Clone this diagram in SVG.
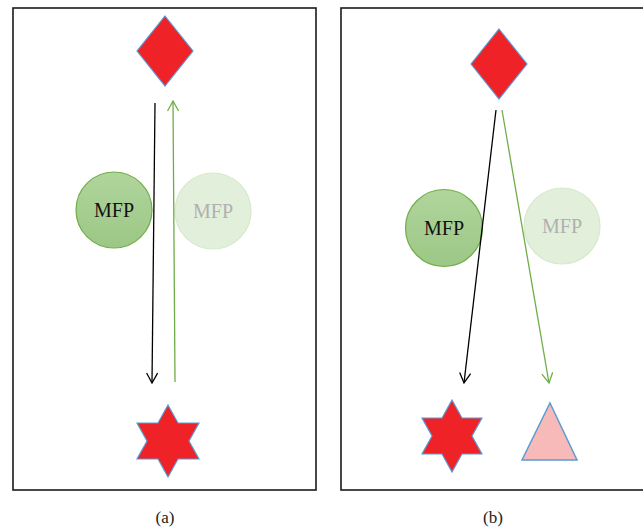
<svg xmlns="http://www.w3.org/2000/svg" width="643" height="529" viewBox="0 0 643 529">
  <style>
    .frame { fill: #ffffff; stroke: #1a1a1a; stroke-width: 1.6; }
    .shape { fill: #ee2227; stroke: #5b9bd5; stroke-width: 1.2; stroke-linejoin: miter; }
    .tri { fill: #f8b9b9; stroke: #5b9bd5; stroke-width: 1.5; }
    .mfp { fill: url(#mfpFill); stroke: #70ad47; stroke-width: 1.2; }
    .mfp-faded { fill: #e2efda; stroke: #d6e9cb; stroke-width: 1.2; }
    .label { font-family: "Liberation Serif", "Times New Roman", serif; font-size: 20px; text-anchor: middle; }
    .caption { font-family: "Liberation Serif", "Times New Roman", serif; font-size: 17px; text-anchor: middle; fill: #222; }
    .arrow-black { stroke: #000; stroke-width: 1.3; fill: none; marker-end: url(#headBlack); }
    .arrow-green { stroke: #70ad47; stroke-width: 1.3; fill: none; marker-end: url(#headGreen); }
  </style>
  <defs>
    <linearGradient id="mfpFill" x1="0" y1="0" x2="0" y2="1">
      <stop offset="0" stop-color="#b0d59d"/>
      <stop offset="1" stop-color="#9cc785"/>
    </linearGradient>
    <marker id="headBlack" viewBox="0 0 12 12" refX="11" refY="6" markerWidth="12" markerHeight="12" markerUnits="userSpaceOnUse" orient="auto">
      <path d="M1,0.5 L11,6 L1,11.5" fill="none" stroke="#000" stroke-width="1.3"/>
    </marker>
    <marker id="headGreen" viewBox="0 0 12 12" refX="11" refY="6" markerWidth="12" markerHeight="12" markerUnits="userSpaceOnUse" orient="auto">
      <path d="M1,0.5 L11,6 L1,11.5" fill="none" stroke="#70ad47" stroke-width="1.3"/>
    </marker>
  </defs>

  <rect width="643" height="529" fill="#ffffff"/>

  <!-- panel frames -->
  <rect class="frame" x="13" y="8" width="303" height="482"/>
  <rect class="frame" x="341" y="8" width="310" height="482"/>

  <!-- panel (a) -->
  <g id="a-diamond">
    <polygon class="shape" points="165,16 193,51 165,86 137,51"/>
  </g>
  <g id="a-mfp">
    <circle class="mfp" cx="114" cy="210" r="38"/>
    <text class="label" x="114" y="217" fill="#111">MFP</text>
  </g>
  <g id="a-mfp-faded">
    <circle class="mfp-faded" cx="213" cy="211" r="38"/>
    <text class="label" x="213" y="218" fill="#b0b0b0">MFP</text>
  </g>
  <g id="a-star">
    <polygon class="shape" points="168,405 178,423 199,423 189,441 199,459 178,459 168,477 158,459 137,459 147,441 137,423 158,423"/>
  </g>

  <!-- panel (b) -->
  <g id="b-diamond">
    <polygon class="shape" points="499,29 527,64 499,99 471,64"/>
  </g>
  <g id="b-mfp">
    <circle class="mfp" cx="444" cy="228" r="38.5"/>
    <text class="label" x="444" y="235" fill="#111">MFP</text>
  </g>
  <g id="b-mfp-faded">
    <circle class="mfp-faded" cx="562" cy="226" r="38"/>
    <text class="label" x="562" y="233" fill="#b0b0b0">MFP</text>
  </g>
  <g id="b-star">
    <polygon class="shape" points="452,400 462,418 482,418 472,436 482,454 462,454 452,472 442,454 422,454 432,436 422,418 442,418"/>
  </g>
  <g id="b-triangle">
    <polygon class="tri" points="550,403 577,460 522,460"/>
  </g>

  <!-- connectors -->
  <g id="connectors">
    <line class="arrow-black" x1="155" y1="103" x2="152" y2="383"/>
    <line class="arrow-green" x1="175" y1="382" x2="173" y2="101"/>
    <line class="arrow-black" x1="496" y1="110" x2="464" y2="383"/>
    <line class="arrow-green" x1="502" y1="110" x2="549" y2="383"/>
  </g>

  <!-- captions -->
  <text class="caption" x="165" y="523">(a)</text>
  <text class="caption" x="493" y="523">(b)</text>
</svg>
